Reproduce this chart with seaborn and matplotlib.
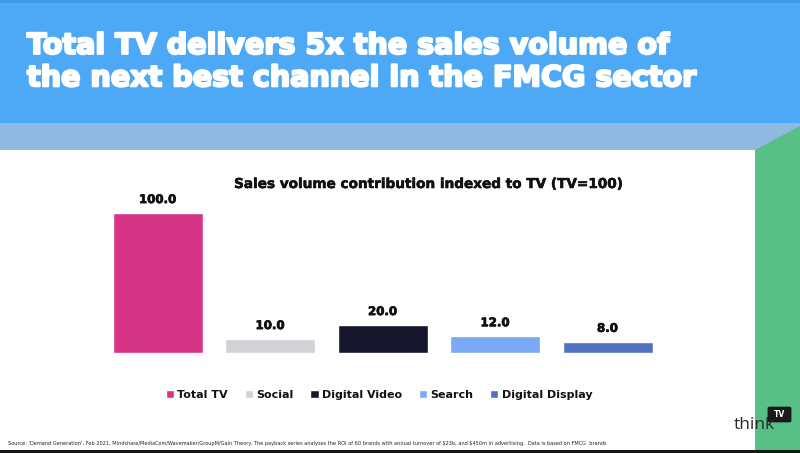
import matplotlib
matplotlib.use("Agg")
import matplotlib.pyplot as plt
import matplotlib.patheffects as pe
import seaborn as sns
import pandas as pd
from matplotlib.patches import Rectangle, Polygon, FancyBboxPatch

categories = ["Total TV", "Social", "Digital Video", "Search", "Digital Display"]
values = [100.0, 10.0, 20.0, 12.0, 8.0]
colors = ["#D63487", "#D1D1D6", "#15162B", "#7CA9F5", "#5072C0"]

title = "Total TV delivers 5x the sales volume of\nthe next best channel in the FMCG sector"
chart_title = "Sales volume contribution indexed to TV (TV=100)"
source = ("Source: 'Demand Generation', Feb 2021, Mindshare/MediaCom/Wavemaker/GroupM/Gain Theory. "
          "The payback series analyses the ROI of 60 brands with annual turnover of \\$23b, and \\$450m in advertising.  "
          "Data is based on FMCG  brands")

sns.set_theme(style="white")
plt.rcParams["font.family"] = ["DejaVu Sans"]

W, H = 800, 453
fig = plt.figure(figsize=(8, 4.53), dpi=100)
fig.patch.set_facecolor("white")

def fx(x):
    return x / W

def fy(y):
    return 1 - y / H

# background bands
fig.patches.append(Rectangle((0, fy(123)), 1, 123 / H, transform=fig.transFigure,
                             facecolor="#4DA9F6", edgecolor="none", zorder=0))
fig.patches.append(Rectangle((0, fy(3)), 1, 3 / H, transform=fig.transFigure,
                             facecolor="#3E99E6", edgecolor="none", zorder=0))
fig.patches.append(Rectangle((0, fy(150)), 1, 27 / H, transform=fig.transFigure,
                             facecolor="#8FB9E1", edgecolor="none", zorder=0))
fig.patches.append(Polygon([(fx(755), fy(150)), (fx(800), fy(126)), (fx(800), fy(450)), (fx(755), fy(450))],
                           closed=True, transform=fig.transFigure,
                           facecolor="#58BF86", edgecolor="none", zorder=0))
fig.patches.append(Rectangle((0, 0), 1, 3 / H, transform=fig.transFigure,
                             facecolor="#151515", edgecolor="none", zorder=0))

# main title
fig.text(fx(27), fy(62), title, color="white", fontsize=20.6, fontweight="bold",
         ha="left", va="center", linespacing=1.2,
         path_effects=[pe.withStroke(linewidth=1.6, foreground="white")])

# chart
ax = fig.add_axes([fx(101.25), fy(353), 562.5 / W, 154 / H])
df = pd.DataFrame({"channel": categories, "value": values})
sns.barplot(data=df, x="channel", y="value", hue="channel", palette=colors,
            order=categories, hue_order=categories, dodge=False, width=0.8,
            legend=True, ax=ax, saturation=1)
ax.set_xlim(-0.5, 4.5)
ax.set_ylim(0, 110)
ax.axis("off")
for c in ax.containers:
    ax.bar_label(c, fmt="%.1f", padding=5, fontsize=8.5, fontweight="bold", color="#111111",
                 path_effects=[pe.withStroke(linewidth=0.5, foreground="#111111")])

fig.text(fx(429), fy(184), chart_title, ha="center", va="center", fontsize=9.8,
         fontweight="bold", color="#111111",
         path_effects=[pe.withStroke(linewidth=0.4, foreground="#111111")])

leg = ax.legend(loc="center", bbox_to_anchor=(fx(379), fy(395)), bbox_transform=fig.transFigure,
                ncol=5, frameon=False, handlelength=0.75, handleheight=0.75, handletextpad=0.3,
                columnspacing=1.5, prop={"weight": "bold", "size": 8.0})
for t in leg.get_texts():
    t.set_color("#111111")

# source
fig.text(fx(8), fy(444), source, ha="left", va="center", fontsize=3.6, color="#222222")

# logo
fig.text(fx(734), fy(425), "think", ha="left", va="center", fontsize=12.5, color="#2a2a2a",
         family=["Open Sans", "DejaVu Sans"])
fig.patches.append(FancyBboxPatch((fx(770), fy(421)), 19 / W, 13 / H, transform=fig.transFigure,
                                  boxstyle="round,pad=0.003", facecolor="#1a1a1a", edgecolor="none"))
fig.text(fx(779.5), fy(414.5), "TV", ha="center", va="center", fontsize=5.5, color="white",
         fontweight="bold")

fig.savefig("out.png", dpi=100)
